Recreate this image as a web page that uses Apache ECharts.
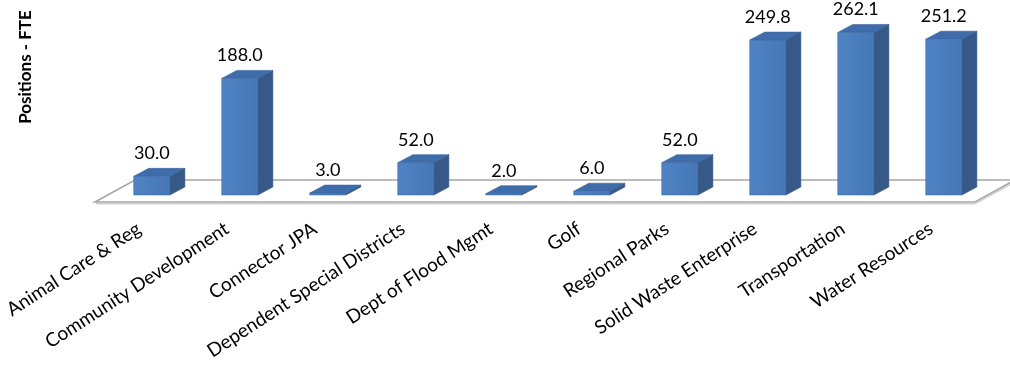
<!DOCTYPE html>
<html>
<head>
<meta charset="utf-8">
<script src="https://cdn.jsdelivr.net/npm/echarts@6/dist/echarts.min.js"></script>
<style>
  html, body { margin: 0; padding: 0; background: #fff; }
  #chart { width: 1010px; height: 366px; }
</style>
</head>
<body>
<div id="chart"></div>
<script>
// Departments and their position counts (FTE)
const categories = [
  'Animal Care & Reg',
  'Community Development',
  'Connector JPA',
  'Dependent Special Districts',
  'Dept of Flood Mgmt',
  'Golf',
  'Regional Parks',
  'Solid Waste Enterprise',
  'Transportation',
  'Water Resources'
];
const fteValues = [30.0, 188.0, 3.0, 52.0, 2.0, 6.0, 52.0, 249.8, 262.1, 251.2];
const axisTitle = 'Positions - FTE';

const FONT = 'Lato, "Open Sans", "Liberation Sans", sans-serif';

// pseudo-3D geometry (pixels)
const FLOOR_DX = 40, FLOOR_DY = -22;   // depth of the floor plane
const BAR_DEPTH_AT = 0.32;             // front face sits this far into the floor
const BAR_DX = 15, BAR_DY = -8;        // depth of each bar
const BAR_WIDTH_RATIO = 0.41;

const chart = echarts.init(document.getElementById('chart'), null, { renderer: 'canvas' });

function renderFloor(params, api) {
  const band = api.size([1, 0])[0];
  const a = api.coord([0, 0]);
  const b = api.coord([categories.length - 1, 0]);
  const x0 = a[0] - band / 2, x1 = b[0] + band / 2, y = a[1];
  return {
    type: 'group',
    children: [
      {
        type: 'polygon',
        shape: { points: [[x0, y], [x1, y], [x1 + FLOOR_DX, y + FLOOR_DY], [x0 + FLOOR_DX, y + FLOOR_DY]] },
        style: { fill: '#ffffff', stroke: '#a6a6a6', lineWidth: 1.6 }
      },
      {
        type: 'line',
        shape: { x1: x0 + 1, y1: y + 1.8, x2: x1, y2: y + 1.8 },
        style: { stroke: '#cfcfcf', lineWidth: 1.5 }
      },
      {
        type: 'line',
        shape: { x1: x1, y1: y + 1.8, x2: x1 + FLOOR_DX, y2: y + FLOOR_DY + 1.8 },
        style: { stroke: '#cfcfcf', lineWidth: 1.5 }
      }
    ]
  };
}

function renderBar(params, api) {
  const idx = api.value(0);
  const val = api.value(1);
  const band = api.size([1, 0])[0];
  const base = api.coord([idx, 0]);
  const top = api.coord([idx, val]);
  const ox = FLOOR_DX * BAR_DEPTH_AT, oy = FLOOR_DY * BAR_DEPTH_AT;
  const cx = base[0] + ox;
  const w = band * BAR_WIDTH_RATIO;
  const L = cx - w / 2, R = cx + w / 2;
  const yb = base[1] + oy, yt = top[1] + oy;
  return {
    type: 'group',
    children: [
      {
        type: 'polygon',
        shape: { points: [[R, yb], [R + BAR_DX, yb + BAR_DY], [R + BAR_DX, yt + BAR_DY], [R, yt]] },
        style: { fill: '#36598a', stroke: '#2f4f7c', lineWidth: 0.6 }
      },
      {
        type: 'polygon',
        shape: { points: [[L, yt], [R, yt], [R + BAR_DX, yt + BAR_DY], [L + BAR_DX, yt + BAR_DY]] },
        style: { fill: '#3f6dab', stroke: '#3a639b', lineWidth: 0.6 }
      },
      {
        type: 'rect',
        shape: { x: L, y: yt, width: w, height: yb - yt },
        style: {
          fill: new echarts.graphic.LinearGradient(0, 0, 1, 0, [
            { offset: 0, color: '#4f84c4' },
            { offset: 0.5, color: '#4a7dbd' },
            { offset: 1, color: '#4676b4' }
          ]),
          stroke: '#3d6aa5', lineWidth: 0.6
        }
      },
      {
        type: 'text',
        style: {
          x: cx, y: yt + BAR_DY - 6,
          text: val.toFixed(1),
          fill: '#000', font: '18px ' + FONT,
          textAlign: 'center', textVerticalAlign: 'bottom'
        }
      }
    ]
  };
}

chart.setOption({
  animation: false,
  backgroundColor: '#ffffff',
  grid: { left: 95, right: 35, top: 16, bottom: 164, containLabel: false },
  xAxis: {
    type: 'category',
    data: categories,
    axisLine: { show: false },
    axisTick: { show: false },
    axisLabel: {
      interval: 0, rotate: 33, margin: 25,
      color: '#000', fontSize: 19, fontFamily: FONT
    }
  },
  yAxis: {
    type: 'value', min: 0, max: 300,
    axisLine: { show: false }, axisTick: { show: false },
    axisLabel: { show: false }, splitLine: { show: false }
  },
  graphic: [{
    type: 'text', x: 26, y: 67, rotation: Math.PI / 2,
    style: {
      text: axisTitle, fill: '#000', font: 'bold 17px ' + FONT,
      textAlign: 'center', textVerticalAlign: 'middle'
    }
  }],
  series: [
    { type: 'custom', renderItem: renderFloor, data: [[0, 0]], z: 1, silent: true },
    {
      type: 'custom', renderItem: renderBar, z: 2,
      data: fteValues.map((v, i) => [i, v])
    }
  ]
});
</script>
</body>
</html>
